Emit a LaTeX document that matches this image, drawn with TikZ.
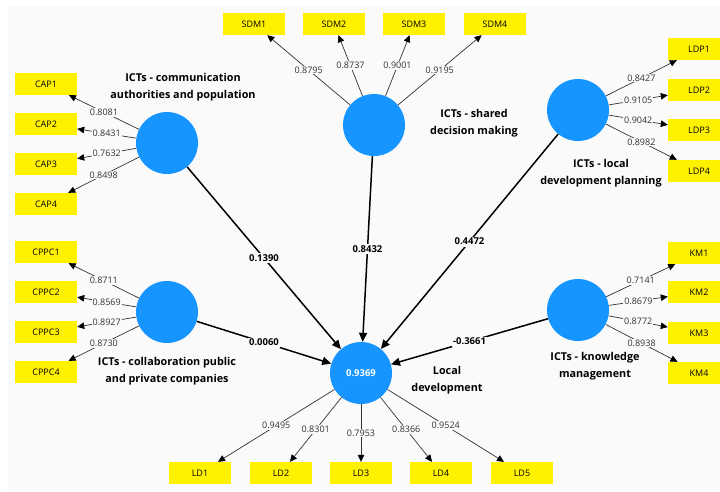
\documentclass[tikz,border=0pt]{standalone}
\usepackage{fontspec}
\setmainfont{Open Sans}
\usetikzlibrary{arrows.meta}
\definecolor{lvblue}{RGB}{22,148,255}
\definecolor{canvas}{RGB}{250,250,250}
\definecolor{loadgray}{RGB}{50,50,50}

\begin{document}
\begin{tikzpicture}[x=1pt,y=-1pt,
    latent/.style={circle,fill=lvblue,minimum size=62pt,inner sep=0pt},
    indicator/.style={fill=yellow,minimum width=62pt,minimum height=22pt,inner sep=0pt,
      font=\fontsize{9}{10}\selectfont},
    loading/.style={draw=loadgray,line width=0.7pt,-{Triangle[length=7pt,width=6.5pt,color=black]}},
    lval/.style={fill=canvas,inner sep=1pt,text=loadgray,font=\fontsize{9}{10}\selectfont},
    structural/.style={draw=black,line width=1.5pt,-{Triangle[length=9pt,width=8pt]}},
    coef/.style={fill=canvas,inner sep=1.5pt,font=\bfseries\fontsize{9.5}{10}\selectfont},
    lvname/.style={align=center,font=\bfseries\fontsize{10.8}{16.5}\selectfont}]
    \useasboundingbox (0,0) rectangle (720,491);
    \clip (0,0) rectangle (720,491);
    \fill[white] (0,0) rectangle (720,491);
    \fill[canvas] (8,6) rectangle (720,491);
    % latent variables
    \node[latent] (cap) at (167,143) {};
    \node[latent] (sdm) at (374,125) {};
    \node[latent] (ldp) at (578,110) {};
    \node[latent] (cppc) at (167,312) {};
    \node[latent] (km) at (578,310) {};
    \node[latent,text=white,font=\bfseries\fontsize{9.5}{10}\selectfont] (ld) at (361,373) {0.9369};
    \node[lvname] (capname) at (183,87) {ICTs - communication\\authorities and population};
    \node[lvname] (sdmname) at (474,123) {ICTs - shared\\decision making};
    \node[lvname] (ldpname) at (601,173) {ICTs - local\\development planning};
    \node[lvname] (cppcname) at (167,371) {ICTs - collaboration public\\and private companies};
    \node[lvname] (kmname) at (595,366) {ICTs - knowledge\\management};
    \node[lvname] (ldname) at (447,380) {Local\\development};
    % indicators and loadings
    \foreach \i/\yy/\v in {1/84/0.8081,2/124/0.8431,3/164/0.7632,4/204/0.8498}{
      \node[indicator] (cap\i) at (46,\yy) {CAP\i};
      \draw[loading] (cap) -- node[lval] {\v} (cap\i);
    }
    \foreach \i/\xx/\v in {1/254/0.8795,2/334/0.8737,3/414/0.9001,4/495/0.9195}{
      \node[indicator] (sdm\i) at (\xx,24) {SDM\i};
      \draw[loading] (sdm) -- node[lval] {\v} (sdm\i);
    }
    \foreach \i/\yy/\v in {1/49/0.8427,2/90/0.9105,3/130/0.9042,4/171/0.8982}{
      \node[indicator] (ldp\i) at (699,\yy) {LDP\i};
      \draw[loading] (ldp) -- node[lval] {\v} (ldp\i);
    }
    \foreach \i/\yy/\v in {1/252/0.8711,2/292/0.8569,3/332/0.8927,4/372/0.8730}{
      \node[indicator] (cppc\i) at (46,\yy) {CPPC\i};
      \draw[loading] (cppc) -- node[lval] {\v} (cppc\i);
    }
    \foreach \i/\yy/\v in {1/253/0.7141,2/292/0.8679,3/333/0.8772,4/373/0.8938}{
      \node[indicator] (km\i) at (699,\yy) {KM\i};
      \draw[loading] (km) -- node[lval] {\v} (km\i);
    }
    \foreach \i/\xx/\v in {1/200/0.9495,2/281/0.8301,3/361/0.7953,4/441/0.8366,5/522/0.9524}{
      \node[indicator] (ld\i) at (\xx,473) {LD\i};
      \draw[loading] (ld) -- node[lval] {\v} (ld\i);
    }
    % path coefficients
    \draw[structural] (cap) -- node[coef] {0.1390} (ld);
    \draw[structural] (sdm) -- node[coef] {0.8432} (ld);
    \draw[structural] (ldp) -- node[coef] {0.4472} (ld);
    \draw[structural] (cppc) -- node[coef] {0.0060} (ld);
    \draw[structural] (km) -- node[coef] {-0.3661} (ld);
\end{tikzpicture}
\end{document}
